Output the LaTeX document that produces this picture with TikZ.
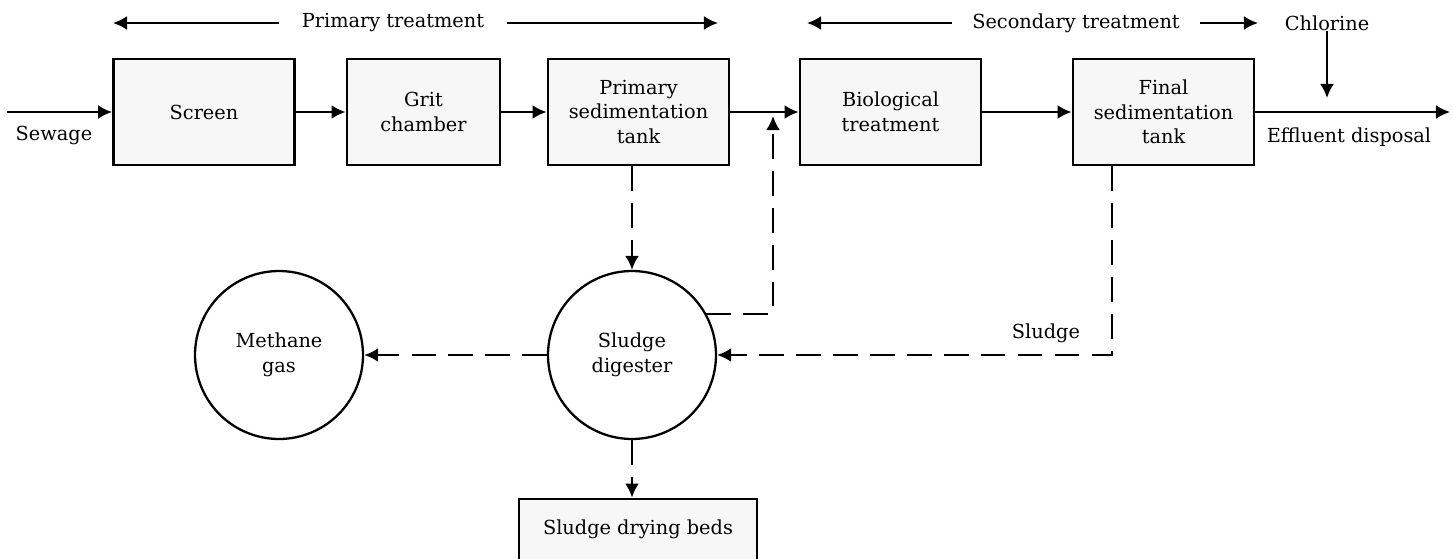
\documentclass[tikz,border=0pt]{standalone}
\usepackage{fontspec}
\setmainfont{DejaVu Serif}
\usetikzlibrary{arrows.meta,positioning}

\tikzset{
  unit/.style={draw, line width=1.6pt, fill=black!3, align=center,
    minimum width=3.62cm, minimum height=2.12cm, inner sep=2pt},
  tank/.style={circle, draw, line width=1.3pt, minimum size=3.36cm, align=center},
  flow/.style={line width=1.4pt, -{Latex[length=8pt,width=8pt]}},
  sludgeflow/.style={flow, dash pattern=on 14pt off 7pt},
  tag/.style={inner sep=0pt}
}

\begin{document}
\begin{tikzpicture}[x=0.02cm, y=-0.02cm, font=\fontsize{11}{14}\selectfont]
  % picture frame in pixel units of the plate
  \path[use as bounding box] (0,0) rectangle (1454,558);
  \clip (0,0) rectangle (1454,558);

  % ---- treatment units ----
  \node[unit] (screen) at (204,112) {Screen};
  \node[unit, minimum width=3.06cm] (grit) at (423.5,112) {Grit\\chamber};
  \node[unit] (prim) at (638.5,112) {Primary\\sedimentation\\tank};
  \node[unit] (bio) at (890.5,112) {Biological\\treatment};
  \node[unit] (final) at (1163.5,112) {Final\\sedimentation\\tank};

  % ---- sludge side ----
  \node[tank] (dig) at (632,355) {Sludge\\digester};
  \node[tank] (gas) at (279,355) {Methane\\gas};
  % bottom edge runs off the plate
  \node[unit, minimum width=4.76cm, minimum height=1.68cm, text depth=0.55cm]
    (beds) at (638,541) {Sludge drying beds};

  % ---- labels ----
  \node[tag] (sewage) at (54,135) {Sewage};
  \node[tag] (effl) at (1349,137) {Effluent disposal};
  \node[tag] (chlor) at (1327,23) {Chlorine};
  \node[tag, inner xsep=0.45cm] (ptreat) at (393,23) {Primary treatment};
  \node[tag, inner xsep=0.4cm] (streat) at (1076,23) {Secondary treatment};
  \node[tag] (sludge) at (1046,333) {Sludge};

  \coordinate (in) at (7,112);
  \coordinate (out) at (1450,112);
  \coordinate (dose) at (1327,98);
  \coordinate (ptL) at (113,23);
  \coordinate (ptR) at (718,23);
  \coordinate (stL) at (807,23);
  \coordinate (stR) at (1258,23);
  \coordinate (ret) at (773,116);
  \coordinate (drop) at ([xshift=-1.03cm]final.south);

  % ---- main flow ----
  \draw[flow] (in) -- (screen);
  \draw[flow] (screen) -- (grit);
  \draw[flow] (grit) -- (prim);
  \draw[flow] (prim) -- (bio);
  \draw[flow] (bio) -- (final);
  \draw[flow] (final) -- (out);
  \draw[flow] (chlor) -- (dose);

  \draw[flow] (ptreat) -- (ptL);
  \draw[flow] (ptreat) -- (ptR);
  \draw[flow] (streat) -- (stL);
  \draw[flow] (streat) -- (stR);

  % ---- sludge flow ----
  \draw[sludgeflow] (prim.south -| dig) -- (dig);
  \draw[sludgeflow] (dig.29) -| (ret);
  \draw[sludgeflow] (drop) |- (dig.east);
  \draw[sludgeflow] (dig) -- (gas);
  \draw[sludgeflow] (dig.south) -- (dig.south |- beds.north);
\end{tikzpicture}
\end{document}
